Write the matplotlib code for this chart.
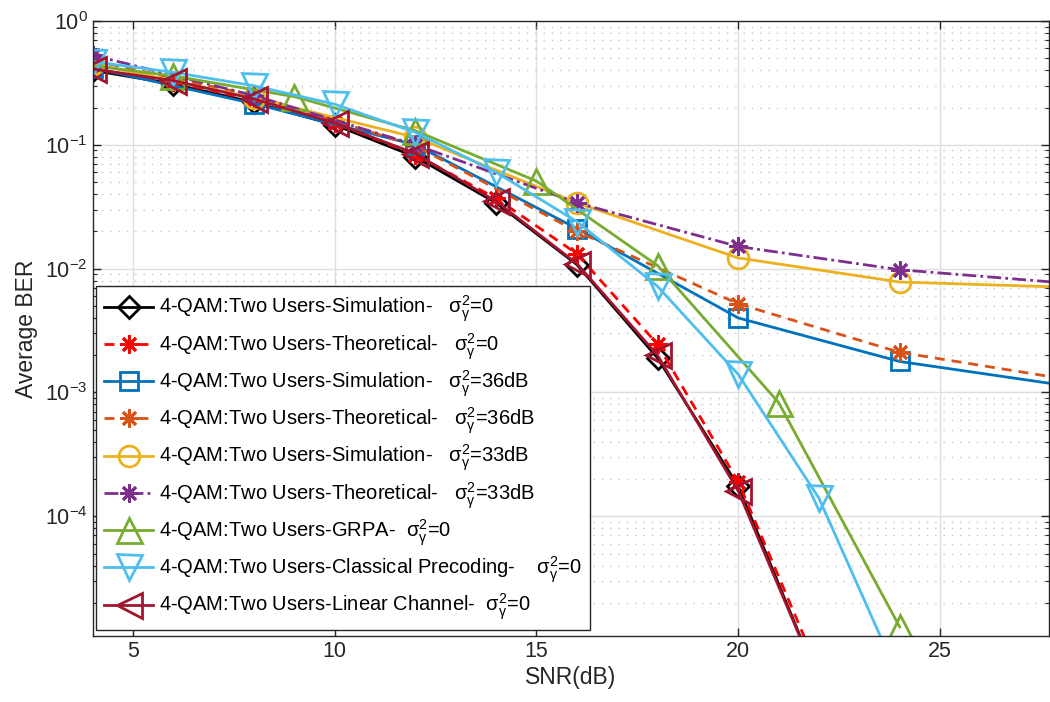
import numpy as np
import matplotlib
matplotlib.use("Agg")
import matplotlib.pyplot as plt
from matplotlib.ticker import LogLocator, NullFormatter, FixedLocator

plt.rcParams['font.family'] = ['Liberation Sans', 'DejaVu Sans']
plt.rcParams['mathtext.fontset'] = 'custom'
plt.rcParams['mathtext.rm'] = 'Liberation Sans'
plt.rcParams['mathtext.it'] = 'Liberation Serif:italic'
plt.rcParams['mathtext.default'] = 'regular'

# SNR grids (dB)
snr_even = [4, 6, 8, 10, 12, 14, 16, 18, 20, 22]
snr_step4 = [4, 8, 12, 16, 20, 24, 28]
snr_step3 = [3, 6, 9, 12, 15, 18, 21, 24]
snr_cp = [4, 6, 8, 10, 12, 14, 16, 18, 20, 22, 24]

# BER values
sim_0 = [0.40, 0.31, 0.22, 0.145, 0.080, 0.034, 0.0108, 0.0019, 1.75e-4, 4.6e-6]
theo_0 = [0.41, 0.32, 0.23, 0.15, 0.083, 0.037, 0.0132, 0.00245, 1.9e-4, 5.6e-6]
sim_36 = [0.42, 0.215, 0.10, 0.0211, 0.0040, 0.00178, 0.00115]
theo_36 = [0.48, 0.25, 0.098, 0.020, 0.0052, 0.00211, 0.0013]
sim_33 = [0.45, 0.24, 0.115, 0.034, 0.0122, 0.0078, 0.0071]
theo_33 = [0.53, 0.25, 0.10, 0.034, 0.0151, 0.0098, 0.0077]
grpa = [0.48, 0.36, 0.245, 0.13, 0.051, 0.0106, 8.3e-4, 1.28e-5]
classical = [0.47, 0.385, 0.30, 0.213, 0.126, 0.060, 0.024, 0.0072, 0.0014, 1.4e-4, 4.8e-6]
linear = [0.41, 0.33, 0.235, 0.15, 0.085, 0.035, 0.011, 0.0020, 1.6e-4, 4.6e-6]

sg = r'$\sigma_{\gamma}^{2}$'
labels = [
    '4-QAM:Two Users-Simulation-   ' + sg + '=0',
    '4-QAM:Two Users-Theoretical-   ' + sg + '=0',
    '4-QAM:Two Users-Simulation-   ' + sg + '=36dB',
    '4-QAM:Two Users-Theoretical-   ' + sg + '=36dB',
    '4-QAM:Two Users-Simulation-   ' + sg + '=33dB',
    '4-QAM:Two Users-Theoretical-   ' + sg + '=33dB',
    '4-QAM:Two Users-GRPA-  ' + sg + '=0',
    '4-QAM:Two Users-Classical Precoding-    ' + sg + '=0',
    '4-QAM:Two Users-Linear Channel-  ' + sg + '=0',
]

fig = plt.figure(figsize=(10.5, 7.02), dpi=100)
ax = fig.add_axes([92.5 / 1050, 66 / 702, (1049 - 92.5) / 1050, 615 / 702])

lw = 2.0
dash = (0, (3.6, 2.5))
dashdot = (0, (5.0, 1.5, 1.0, 1.5))
series = [
    (snr_even, sim_0, 'k', '-', 'D', 11),
    (snr_even, theo_0, '#FF0000', dash, (8, 2, 0), 13),
    (snr_step4, sim_36, '#0072BD', '-', 's', 13),
    (snr_step4, theo_36, '#D95319', dash, (8, 2, 0), 13),
    (snr_step4, sim_33, '#EDB120', '-', 'o', 15),
    (snr_step4, theo_33, '#7E2F8E', dashdot, (8, 2, 0), 13),
    (snr_step3, grpa, '#77AC30', '-', '^', 18),
    (snr_cp, classical, '#4DBEEE', '-', 'v', 18),
    (snr_even, linear, '#A2142F', '-', '<', 18),
]
for (x, y, c, ls, m, ms), lab in zip(series, labels):
    ax.plot(x, y, color=c, linestyle=ls, linewidth=lw, marker=m, markersize=ms,
            markerfacecolor='none', markeredgecolor=c, markeredgewidth=lw, label=lab)

ax.set_yscale('log')
ax.set_xlim(4, 27.7)
ax.set_ylim(1.08e-5, 1)
ax.xaxis.set_major_locator(FixedLocator([5, 10, 15, 20, 25]))
ax.yaxis.set_major_locator(FixedLocator([1e-4, 1e-3, 1e-2, 1e-1, 1]))
ax.yaxis.set_minor_locator(LogLocator(base=10, subs=np.arange(2, 10)))
ax.yaxis.set_minor_formatter(NullFormatter())

ax.grid(True, which='major', color='#dfdfdf', linewidth=1.0, linestyle='-')
ax.grid(True, which='minor', axis='y', color='#c4c4c4', linewidth=1.0, linestyle=(0, (1, 5)))
ax.set_axisbelow(True)

ax.tick_params(which='both', direction='in', top=True, right=True, colors='#262626',
               labelsize=15.5)
ax.tick_params(which='major', length=6, width=1)
ax.tick_params(which='minor', length=3, width=0.8)
for s in ax.spines.values():
    s.set_color('#262626')
    s.set_linewidth(1.0)

ax.set_xlabel('SNR(dB)', fontsize=16.5, color='#262626', labelpad=3)
ax.set_ylabel('Average BER', fontsize=16.5, color='#262626', labelpad=5)

leg = ax.legend(loc='lower left', bbox_to_anchor=(0.004, 0.009), borderaxespad=0,
                fontsize=14.5, frameon=True, fancybox=False, framealpha=1,
                edgecolor='#262626', handlelength=2.4, handletextpad=0.3,
                labelspacing=0.33, borderpad=0.4)
leg.get_frame().set_linewidth(1.0)

fig.savefig('out.png', dpi=100)
